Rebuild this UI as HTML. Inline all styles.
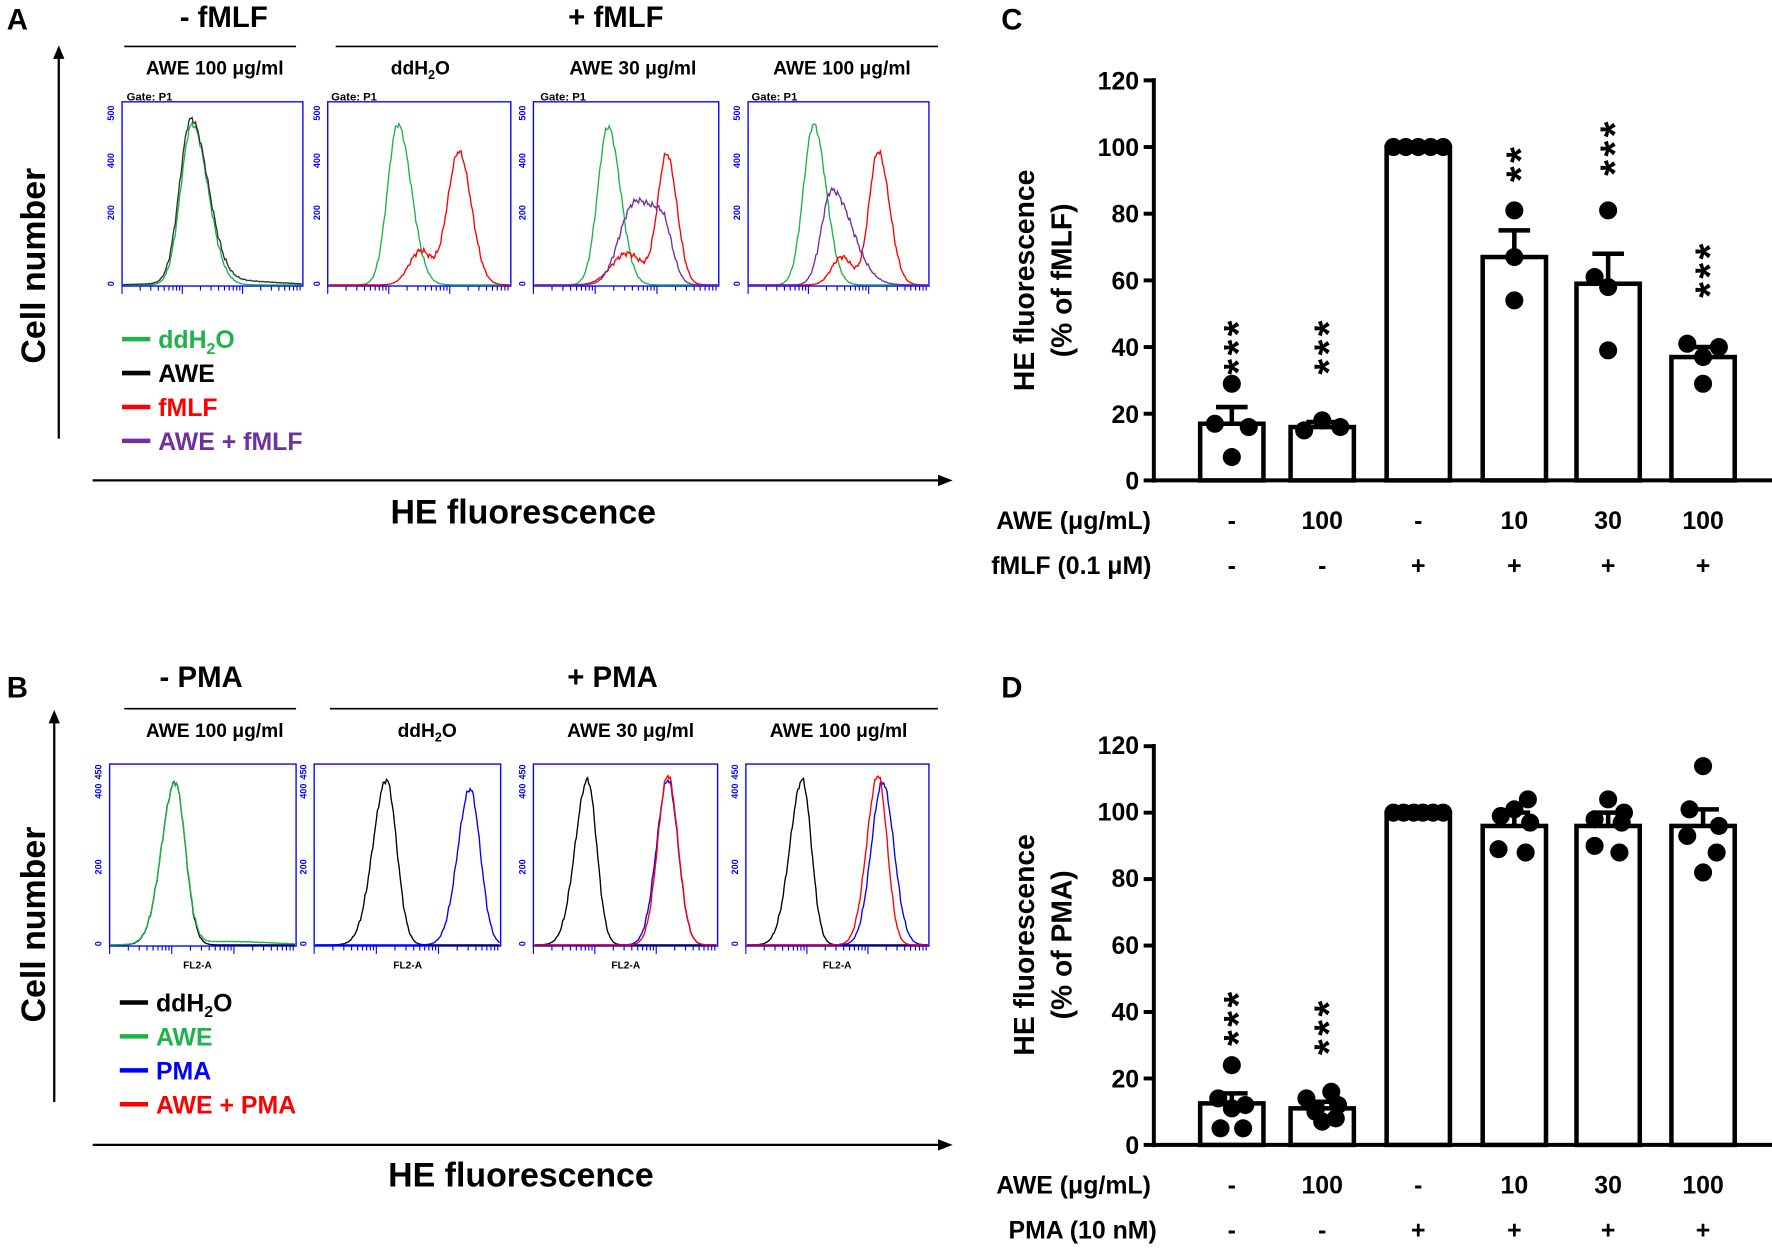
<!DOCTYPE html>
<html><head><meta charset="utf-8"><style>
html,body{margin:0;padding:0;background:#fff}
svg{display:block}
text{font-family:"Liberation Sans",Arial,sans-serif;font-weight:bold}
</style></head><body>
<svg id="s" width="1772" height="1249" viewBox="0 0 1568 1105" xmlns="http://www.w3.org/2000/svg">
<rect width="1568" height="1105" fill="#fff"/>
<!-- Panel A -->
<text x="6" y="26" font-size="26">A</text>
<text x="198" y="24" font-size="26" text-anchor="middle">- fMLF</text>
<text x="545" y="24" font-size="26" text-anchor="middle">+ fMLF</text>
<line x1="110" y1="41" x2="262" y2="41" stroke="#000" stroke-width="1.5"/>
<line x1="297" y1="41" x2="830" y2="41" stroke="#000" stroke-width="1.5"/>
<text x="190" y="66" font-size="17" text-anchor="middle">AWE 100 μg/ml</text>
<text x="372" y="66" font-size="17" text-anchor="middle">ddH<tspan font-size="11" dy="4">2</tspan><tspan dy="-4">O</tspan></text>
<text x="560" y="66" font-size="17" text-anchor="middle">AWE 30 μg/ml</text>
<text x="745" y="66" font-size="17" text-anchor="middle">AWE 100 μg/ml</text>
<text x="112" y="89" font-size="10" font-weight="normal">Gate: P1</text>
<text x="293" y="89" font-size="10" font-weight="normal">Gate: P1</text>
<text x="478" y="89" font-size="10" font-weight="normal">Gate: P1</text>
<text x="665" y="89" font-size="10" font-weight="normal">Gate: P1</text>
<text transform="translate(40,235) rotate(-90)" font-size="30" text-anchor="middle">Cell number</text>
<line x1="52" y1="388" x2="52" y2="50" stroke="#000" stroke-width="2"/>
<polygon points="47,52 57,52 52,40" fill="#000"/>
<line x1="82" y1="425" x2="832" y2="425" stroke="#000" stroke-width="2"/>
<polygon points="830,420 830,430 843,425" fill="#000"/>
<text x="463" y="463" font-size="30" text-anchor="middle">HE fluorescence</text>
<g font-size="22">
<line x1="108" y1="300" x2="133" y2="300" stroke="#1db34a" stroke-width="4"/><text x="140" y="308" fill="#1db34a">ddH<tspan font-size="14" dy="5">2</tspan><tspan dy="-5">O</tspan></text>
<line x1="108" y1="330" x2="133" y2="330" stroke="#000" stroke-width="4"/><text x="140" y="338">AWE</text>
<line x1="108" y1="360" x2="133" y2="360" stroke="#f00" stroke-width="4"/><text x="140" y="368" fill="#f00">fMLF</text>
<line x1="108" y1="390" x2="133" y2="390" stroke="#7030a0" stroke-width="4"/><text x="140" y="398" fill="#7030a0">AWE + fMLF</text>
</g>
<!-- Panel B -->
<text x="6" y="617" font-size="26">B</text>
<text x="178" y="608" font-size="26" text-anchor="middle">- PMA</text>
<text x="542" y="608" font-size="26" text-anchor="middle">+ PMA</text>
<line x1="110" y1="627" x2="262" y2="627" stroke="#000" stroke-width="1.5"/>
<line x1="292" y1="627" x2="830" y2="627" stroke="#000" stroke-width="1.5"/>
<text x="190" y="652" font-size="17" text-anchor="middle">AWE 100 μg/ml</text>
<text x="378" y="652" font-size="17" text-anchor="middle">ddH<tspan font-size="11" dy="4">2</tspan><tspan dy="-4">O</tspan></text>
<text x="558" y="652" font-size="17" text-anchor="middle">AWE 30 μg/ml</text>
<text x="742" y="652" font-size="17" text-anchor="middle">AWE 100 μg/ml</text>
<text transform="translate(40,818) rotate(-90)" font-size="30" text-anchor="middle">Cell number</text>
<line x1="48" y1="975" x2="48" y2="638" stroke="#000" stroke-width="2"/>
<polygon points="43,640 53,640 48,628" fill="#000"/>
<line x1="82" y1="1013" x2="832" y2="1013" stroke="#000" stroke-width="2"/>
<polygon points="830,1008 830,1018 843,1013" fill="#000"/>
<text x="461" y="1050" font-size="30" text-anchor="middle">HE fluorescence</text>
<g font-size="22">
<line x1="106" y1="887" x2="131" y2="887" stroke="#000" stroke-width="4"/><text x="138" y="895">ddH<tspan font-size="14" dy="5">2</tspan><tspan dy="-5">O</tspan></text>
<line x1="106" y1="917" x2="131" y2="917" stroke="#1db34a" stroke-width="4"/><text x="138" y="925" fill="#1db34a">AWE</text>
<line x1="106" y1="947" x2="131" y2="947" stroke="#00f" stroke-width="4"/><text x="138" y="955" fill="#00f">PMA</text>
<line x1="106" y1="977" x2="131" y2="977" stroke="#f00" stroke-width="4"/><text x="138" y="985" fill="#f00">AWE + PMA</text>
</g>
<g font-size="9" font-weight="normal">
<text x="162" y="857">FL2-A</text><text x="348" y="857">FL2-A</text><text x="541" y="857">FL2-A</text><text x="728" y="857">FL2-A</text>
</g>
<!-- Panel C -->
<text x="886" y="26" font-size="26">C</text>
<g font-size="22" text-anchor="end">
<text x="1008" y="433">0</text><text x="1008" y="374">20</text><text x="1008" y="315">40</text><text x="1008" y="256">60</text><text x="1008" y="197">80</text><text x="1008" y="138">100</text><text x="1008" y="79">120</text>
</g>
<text transform="translate(915,248) rotate(-90)" font-size="25" text-anchor="middle">HE fluorescence</text>
<text transform="translate(948,248) rotate(-90)" font-size="25" text-anchor="middle">(% of fMLF)</text>
<g font-size="22" text-anchor="middle">
<text x="950" y="468">AWE (μg/mL)</text><text x="948" y="508">fMLF (0.1 μM)</text>
<text x="1090" y="468">-</text><text x="1170" y="468">100</text><text x="1255" y="468">-</text><text x="1340" y="468">10</text><text x="1423" y="468">30</text><text x="1507" y="468">100</text>
<text x="1090" y="508">-</text><text x="1170" y="508">-</text><text x="1255" y="508">+</text><text x="1340" y="508">+</text><text x="1423" y="508">+</text><text x="1507" y="508">+</text>
</g>
<g font-size="36" text-anchor="middle" letter-spacing="3">
<text transform="translate(1108,306) rotate(-90)">***</text>
<text transform="translate(1188,306) rotate(-90)">***</text>
<text transform="translate(1358,144) rotate(-90)">**</text>
<text transform="translate(1441,130) rotate(-90)">***</text>
<text transform="translate(1525,238) rotate(-90)">***</text>
</g>
<!-- Panel D -->
<text x="886" y="617" font-size="26">D</text>
<g font-size="22" text-anchor="end">
<text x="1008" y="1021">0</text><text x="1008" y="962">20</text><text x="1008" y="903">40</text><text x="1008" y="844">60</text><text x="1008" y="785">80</text><text x="1008" y="726">100</text><text x="1008" y="667">120</text>
</g>
<text transform="translate(915,836) rotate(-90)" font-size="25" text-anchor="middle">HE fluorescence</text>
<text transform="translate(948,836) rotate(-90)" font-size="25" text-anchor="middle">(% of PMA)</text>
<g font-size="22" text-anchor="middle">
<text x="950" y="1056">AWE (μg/mL)</text><text x="958" y="1096">PMA (10 nM)</text>
<text x="1090" y="1056">-</text><text x="1170" y="1056">100</text><text x="1255" y="1056">-</text><text x="1340" y="1056">10</text><text x="1423" y="1056">30</text><text x="1507" y="1056">100</text>
<text x="1090" y="1096">-</text><text x="1170" y="1096">-</text><text x="1255" y="1096">+</text><text x="1340" y="1096">+</text><text x="1423" y="1096">+</text><text x="1507" y="1096">+</text>
</g>
<g font-size="36" text-anchor="middle" letter-spacing="3">
<text transform="translate(1108,900) rotate(-90)">***</text>
<text transform="translate(1188,908) rotate(-90)">***</text>
</g>
<g id="dyn"></g>
</svg>
<script>
var NS="http://www.w3.org/2000/svg",g=document.getElementById("dyn");
function el(t,a){var e=document.createElementNS(NS,t);for(var k in a)e.setAttribute(k,a[k]);g.appendChild(e);return e;}
function hist(x0,x1,base,peaks,col,w){var d="";for(var x=x0;x<=x1;x+=1){var v=0;peaks.forEach(function(p){var s=x<p[0]?p[2]:(p[3]||p[2]);v+=p[1]*Math.exp(-Math.pow((x-p[0])/s,2)/2);});v+= (Math.sin(x*2.3)+Math.sin(x*5.1))*Math.min(v,30)*0.05;d+=(x==x0?"M":"L")+x+","+(base-v).toFixed(1);}el("path",{d:d,fill:"none",stroke:col,"stroke-width":w||1.2});}
function box(x0,y0,x1,y1,labels){el("rect",{x:x0,y:y0,width:x1-x0,height:y1-y0,fill:"none",stroke:"#00f","stroke-width":1.2});
 labels.forEach(function(l){var t=el("text",{transform:"translate("+(x0-7)+","+l[1]+") rotate(-90)","font-size":8,fill:"#00f","text-anchor":"middle","font-weight":"normal"});t.textContent=l[0];});
 var w=x1-x0;for(var dec=0;dec<3;dec++){for(var i=1;i<10;i++){var x=x0+w*(dec+Math.log10(i))/3;el("line",{x1:x,y1:y1,x2:x,y2:y1+(i==1?7:4),stroke:"#00f","stroke-width":1});}}}
var A=[[108,268],[290,452],[472,636],[662,822]];
A.forEach(function(b){box(b[0],90,b[1],253,[["500",100],["400",142],["200",188],["0",251]]);});
hist(109,267,252,[[170,142,10,14]],"#1db34a");hist(109,267,252,[[169,144,10,15],[200,4,40]],"#333");
hist(291,451,252,[[352,142,9,12]],"#1db34a");hist(291,451,252,[[406,118,10,11],[372,30,10]],"#f00");
hist(473,635,252,[[538,140,9,11]],"#1db34a");hist(473,635,252,[[590,115,8,9],[555,28,14]],"#f00");hist(473,635,252,[[585,62,16,9],[558,55,12]],"#7030a0");
hist(663,821,252,[[720,142,9,11]],"#1db34a");hist(663,821,252,[[777,118,8,10],[745,25,9]],"#f00");hist(663,821,252,[[736,84,9,18]],"#7030a0");
var B=[[97,262],[278,443],[472,635],[660,822]];
B.forEach(function(b){box(b[0],676,b[1],837,[["450",683],["400",700],["200",767],["0",835]]);});
hist(98,261,836,[[155,144,12,9]],"#000");hist(98,261,836,[[155,142,12,9],[200,3,40]],"#1db34a");
hist(279,442,836,[[342,146,12,9]],"#000");hist(279,442,836,[[416,138,11,9]],"#00f");
hist(473,634,836,[[520,146,11,8]],"#000");hist(473,634,836,[[591,146,10,9]],"#00f");hist(473,634,836,[[591,150,9,9]],"#f00");
hist(661,821,836,[[710,146,11,8]],"#000");hist(661,821,836,[[781,144,10,10]],"#00f");hist(661,821,836,[[777,150,10,8]],"#f00");
function chart(y0,sc,groups){el("line",{x1:1021,y1:y0-120*sc-2,x2:1021,y2:y0+2,stroke:"#000","stroke-width":3.5});
 el("line",{x1:1019,y1:y0,x2:1568,y2:y0,stroke:"#000","stroke-width":3.5});
 for(var v=0;v<=120;v+=20)el("line",{x1:1012,y1:y0-v*sc,x2:1021,y2:y0-v*sc,stroke:"#000","stroke-width":3.5});
 var cx=[1090,1170,1255,1340,1423,1507];
 groups.forEach(function(gr,i){var m=gr[0],se=gr[1],pts=gr[2],c=cx[i];
  el("rect",{x:c-28,y:y0-m*sc,width:56,height:m*sc,fill:"#fff",stroke:"#000","stroke-width":4});
  if(se>0){el("line",{x1:c,y1:y0-m*sc,x2:c,y2:y0-(m+se)*sc,stroke:"#000","stroke-width":4});el("line",{x1:c-14,y1:y0-(m+se)*sc,x2:c+14,y2:y0-(m+se)*sc,stroke:"#000","stroke-width":4});}
  pts.forEach(function(p){el("circle",{cx:c+p[1],cy:y0-p[0]*sc,r:8,fill:"#000"});});});}
chart(425,2.95,[[17,5,[[29,0],[17,-15],[16,15],[7,0]]],[16,1.5,[[18,0],[15,-16],[16,16]]],[100,0,[[100,-22],[100,-11],[100,0],[100,11],[100,22]]],[67,8,[[81,0],[67,0],[54,0]]],[59,9,[[81,0],[61,-12],[58,0],[39,0]]],[37,3,[[41,-14],[40,14],[37,0],[29,0]]]]);
chart(1013,2.94,[[12.5,3,[[24,0],[14,-12],[12,12],[11,0],[5,-10],[5,10]]],[11,2,[[16,8],[14,-14],[12,14],[10,-6],[7,0],[8,12]]],[100,0,[[100,-22],[100,-13],[100,-4],[100,4],[100,13],[100,22]]],[96,4,[[104,12],[101,0],[99,-12],[97,14],[89,-14],[88,10]]],[96,4,[[104,0],[100,14],[98,-12],[97,12],[90,-12],[88,10]]],[96,5,[[114,0],[101,-12],[96,14],[93,-14],[88,12],[82,0]]]]);
</script>
</body></html>
